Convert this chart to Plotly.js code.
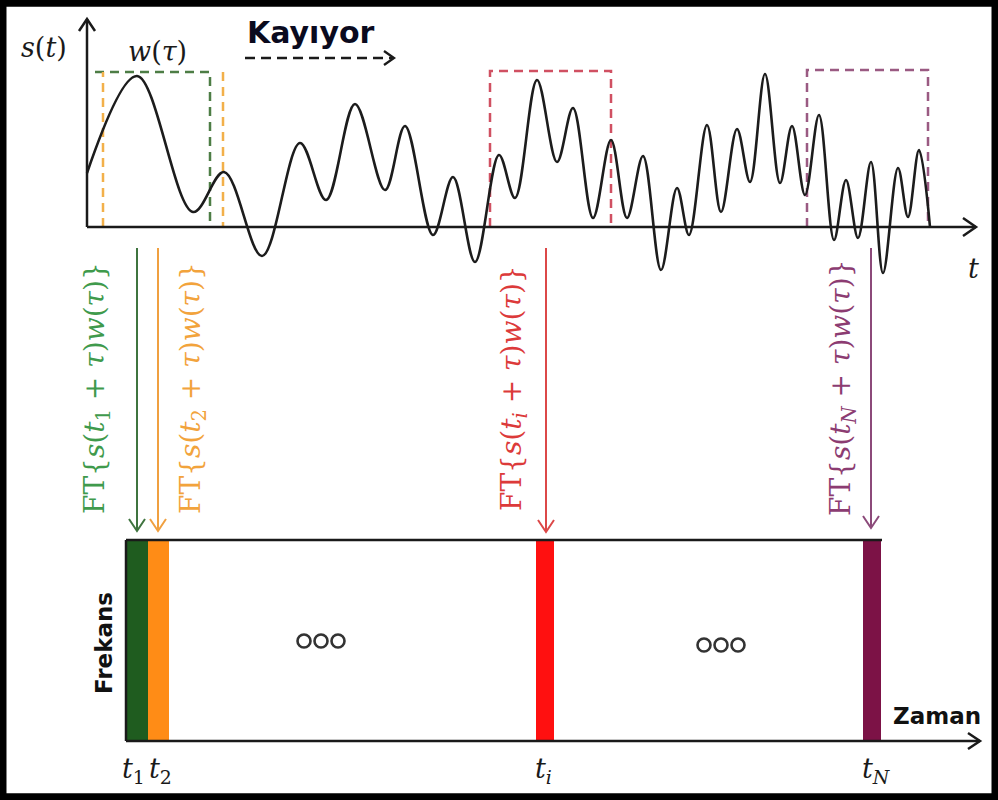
<!DOCTYPE html>
<html>
<head>
<meta charset="utf-8">
<script src="https://cdn.plot.ly/plotly-3.0.1.min.js"></script>
<style>
  html, body { margin: 0; padding: 0; background: #ffffff; }
  #chart { width: 998px; height: 800px; }
</style>
</head>
<body>
<div id="chart"></div>
<script>
// Signal s(t): successive extrema of the recorded waveform (time, amplitude)
const signalT = [0, 50, 106, 137, 175, 213, 239, 268, 298, 318, 346, 366, 388, 412, 428, 450, 470, 486,
                 506, 524, 540, 556, 574, 590, 602, 620, 634, 650, 663, 678, 693, 705, 718, 732, 747,
                 759, 771, 784, 796, 811, 821, 832, 843];
const signalAmp = [54, 151, 15, 55, -29, 84, 27, 123, 37, 101, -8, 50, -35, 72, 29, 147, 65, 119,
                   9, 87, 9, 71, -43, 39, -8, 102, 15, 98, 45, 153, 44, 101, 32, 112, -13,
                   47, -11, 65, -46, 59, 10, 77, 0];

// Analysis windows w(tau) sliding along the signal
const windowNames = ['t1', 't2', 'ti', 'tN'];
const windowStart = [8, 16, 403, 720];
const windowEnd = [123, 136, 524, 841];
const windowHeight = [155, 155, 156, 157];

// Spectrogram columns produced by each window
const frameCenter = [137, 158.5, 545, 872];
const frameWidth = [22, 21, 18, 18];
const frameTop = [540, 540, 540, 540];
const frameSpan = [201, 201, 201, 201];

const winLine = ['#4d7d45', '#f2b04a', '#d05062', '#9a5a82'];
const barFill = ['#1f5c1f', '#ff8c16', '#ff1010', '#7c1246'];
const ftText = ['#3f9a4c', '#f2a33c', '#dc3a3a', '#8c3c72'];
const ftArrow = ['#3f743f', '#f0a040', '#dc4848', '#8c4a7a'];
const ftSub = ['1', '2', '<i>i</i>', '<i>N</i>'];
const arrowX = [137, 158, 546, 871];
const arrowEnd = [531, 531, 532, 528];
const labelX = [96, 192, 513, 842];

const traces = [];

// Windows drawn as dashed rectangles on the signal axes
for (let k = 0; k < 4; k++) {
  let xs, ys;
  if (k === 0) {
    xs = [windowStart[k], windowEnd[k], windowEnd[k]];
    ys = [windowHeight[k], windowHeight[k], 0];
  } else if (k === 1) {
    xs = [windowStart[k], windowStart[k], null, windowEnd[k], windowEnd[k]];
    ys = [0, windowHeight[k], null, windowHeight[k], 0];
  } else {
    xs = [windowStart[k], windowStart[k], windowEnd[k], windowEnd[k]];
    ys = [0, windowHeight[k], windowHeight[k], 0];
  }
  traces.push({
    type: 'scatter', mode: 'lines', x: xs, y: ys, xaxis: 'x2', yaxis: 'y2',
    line: {color: winLine[k], width: 2.5, dash: '9px,6px'}, hoverinfo: 'skip', showlegend: false
  });
}

// The signal itself
traces.push({
  type: 'scatter', mode: 'lines', x: signalT, y: signalAmp, xaxis: 'x2', yaxis: 'y2',
  line: {color: '#1c1c1c', width: 2.6, shape: 'spline', smoothing: 1},
  hoverinfo: 'skip', showlegend: false
});

// Spectrogram columns
traces.push({
  type: 'bar', x: frameCenter, y: frameSpan, base: frameTop, width: frameWidth,
  marker: {color: barFill, line: {width: 0}}, xaxis: 'x', yaxis: 'y',
  hoverinfo: 'skip', showlegend: false
});

// "ooo" continuation marks
traces.push({
  type: 'scatter', mode: 'markers', x: [304, 321, 338, 704, 721, 738], y: [641, 641, 641, 645, 645, 645],
  marker: {symbol: 'circle-open', size: 13, color: '#333333', line: {width: 2.6, color: '#333333'}},
  hoverinfo: 'skip', showlegend: false
});

const shapes = [];
function seg(x0, y0, x1, y1, color, width, dash) {
  shapes.push({type: 'line', xref: 'x', yref: 'y', x0, y0, x1, y1,
               line: {color, width, dash: dash || 'solid'}, layer: 'above'});
}
function vhead(x, y, dir, color, w, h, width) {
  // open chevron arrowhead; dir: 'down', 'right', 'up'
  let p;
  if (dir === 'down') p = `M${x - w},${y - h} L${x},${y} L${x + w},${y - h}`;
  else if (dir === 'up') p = `M${x - w},${y + h} L${x},${y} L${x + w},${y + h}`;
  else p = `M${x - h},${y - w} L${x},${y} L${x - h},${y + w}`;
  shapes.push({type: 'path', xref: 'x', yref: 'y', path: p, line: {color, width}, layer: 'above'});
}

// Signal axes
seg(87, 227, 87, 19, '#1a1a1a', 2.5);
vhead(87, 19, 'up', '#1a1a1a', 8, 12, 2.5);
seg(87, 227, 976, 227, '#1a1a1a', 2.5);
vhead(976, 227, 'right', '#1a1a1a', 9, 13, 2.5);

// "Kayıyor" dashed arrow
seg(245, 58, 392, 58, '#1a1a1a', 2.3, '10px,6px');
vhead(394, 58, 'right', '#1a1a1a', 7, 10, 2.3);

// Fourier transform arrows
for (let k = 0; k < 4; k++) {
  seg(arrowX[k], 248, arrowX[k], arrowEnd[k], ftArrow[k], 2);
  vhead(arrowX[k], arrowEnd[k], 'down', ftArrow[k], 8, 12, 2);
}

// Spectrogram frame and time axis
seg(126, 540, 882, 540, '#1a1a1a', 2.5);
seg(126, 540, 126, 741, '#1a1a1a', 2.5);
seg(126, 741, 980, 741, '#1a1a1a', 2.5);
vhead(980, 741, 'right', '#1a1a1a', 8, 12, 2.5);

// Outer border
shapes.push({type: 'rect', xref: 'paper', yref: 'paper', x0: 0.003, x1: 0.997, y0: 0.004, y1: 0.996,
             line: {color: '#000000', width: 7}, layer: 'above'});

const serif = 'DejaVu Serif, Liberation Serif, serif';
const sans = 'DejaVu Sans, Open Sans, sans-serif';
const annotations = [];
function txt(x, y, text, size, color, family, angle, extra) {
  annotations.push(Object.assign({xref: 'x', yref: 'y', x, y, text, showarrow: false,
    font: {size, color, family}, textangle: angle || 0, xanchor: 'center', yanchor: 'middle'}, extra || {}));
}

txt(44, 47, '<i>s</i>(<i>t</i>)', 27, '#1a1a1a', serif);
txt(157, 51, '<i>w</i>(<i>τ</i>)', 27, '#1a1a1a', serif);
txt(311, 32, '<b>Kayıyor</b>', 30, '#0a0a1e', sans);
txt(973, 268, '<i>t</i>', 27, '#1a1a1a', serif);

for (let k = 0; k < 4; k++) {
  const lbl = 'FT{<i>s</i>(<i>t</i><sub>' + ftSub[k] + '</sub> + <i>τ</i>)<i>w</i>(<i>τ</i>)}';
  txt(labelX[k], 388, lbl, 28, ftText[k], serif, -90);
}

txt(104, 643, '<b>Frekans</b>', 23, '#111111', sans, -90);
txt(937, 716, '<b>Zaman</b>', 23, '#111111', sans);

txt(133, 770, '<i>t</i><sub>1</sub>', 27, '#1a1a1a', serif);
txt(160, 770, '<i>t</i><sub>2</sub>', 27, '#1a1a1a', serif);
txt(543, 770, '<i>t</i><sub><i>i</i></sub>', 27, '#1a1a1a', serif);
txt(876, 770, '<i>t</i><sub><i>N</i></sub>', 27, '#1a1a1a', serif);

const layout = {
  width: 998, height: 800,
  margin: {l: 0, r: 0, t: 0, b: 0, pad: 0},
  paper_bgcolor: '#ffffff', plot_bgcolor: '#ffffff',
  showlegend: false, bargap: 0,
  xaxis: {range: [0, 998], visible: false, fixedrange: true},
  yaxis: {range: [800, 0], visible: false, fixedrange: true},
  xaxis2: {range: [-87, 911], visible: false, overlaying: 'x', anchor: 'y2', fixedrange: true},
  yaxis2: {range: [-573, 227], visible: false, overlaying: 'y', anchor: 'x2', fixedrange: true},
  shapes, annotations
};

Plotly.newPlot('chart', traces, layout, {displayModeBar: false, staticPlot: true});
</script>
</body>
</html>
